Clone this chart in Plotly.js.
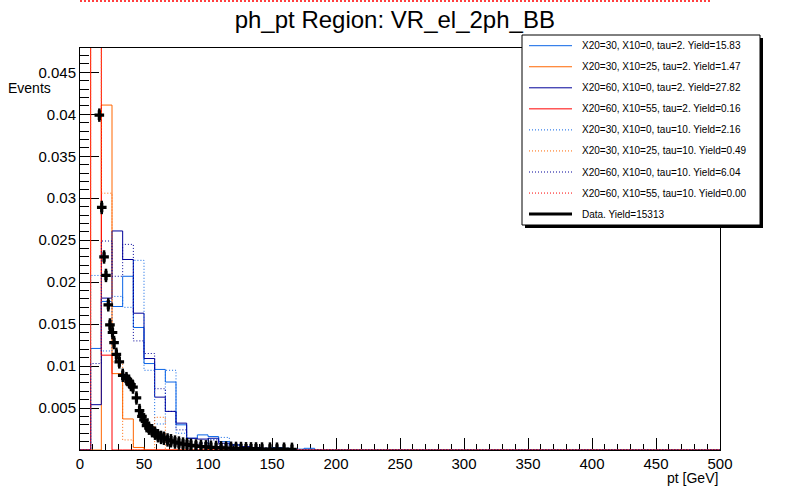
<!DOCTYPE html>
<html>
<head>
<meta charset="utf-8">
<script src="https://cdn.plot.ly/plotly-3.0.1.min.js"></script>
<style>html,body{margin:0;padding:0;background:#fff;}#chart{width:800px;height:500px;}</style>
</head>
<body>
<div id="chart"></div>
<script>
// ---- data (bin width 500/60 GeV, values per bin) ----
var nBins = 60;
var xMin = 0, xMax = 500;

var sigA_tau2  = [0, 0.0121, 0.0177, 0.0171, 0.0207, 0.0146, 0.0103, 0.0096, 0.0081, 0.0030, 0.0014, 0.0018, 0.0016, 0.0010, 0.0006, 0.0004, 0.0003, 0.0002, 0.0003, 0.0002, 0.0001, 0.0002];
var sigB_tau2  = [0, 0, 0.0411, 0.0091, 0.0037, 0.0003];
var sigC_tau2  = [0, 0.0054, 0.0181, 0.0261, 0.0227, 0.0163, 0.0109, 0.0063, 0.0046, 0.0032, 0.0014, 0.0013, 0.0014, 0.0008, 0.0006, 0.0004, 0.0003, 0.0002, 0.0002, 0.0001];
var sigD_tau2  = [0, 0.5, 0.0113];
var sigA_tau10 = [0, 0.0208, 0.0118, 0.0183, 0.0170, 0.0226, 0.0095, 0.0031, 0.0095, 0.0020, 0, 0.0005, 0.0013, 0.0015, 0.0006];
var sigB_tau10 = [0, 0.5, 0.0306, 0.0105, 0.0012, 0, 0, 0.0039];
var sigC_tau10 = [0, 0.0103, 0.0249, 0.0207, 0.0245, 0.0130, 0.0115, 0.0073, 0.0046, 0.0024, 0.0006, 0.0008, 0.0012, 0.0005];
var sigD_tau10 = [];

var dataX = [15.1, 17.0, 18.8, 20.3, 22.1, 23.4, 25.4, 26.6, 28.4, 30.7, 33.4, 36.3, 38.3, 39.8, 41.4, 44.1, 46.5, 48.4, 50.0, 52.0, 53.9, 56.3, 58.6, 60.9, 63.3, 65.6, 68.4, 71.1, 74.2, 77.3, 80.5, 83.6, 86.7, 90.6, 94.5, 98.4, 102.3, 106.3, 110.2, 114.1, 118.0, 121.9, 125.8, 129.7, 133.6, 137.5, 142.2, 148.4, 153.9, 159.4, 165.6];
var dataY = [0.0399, 0.0289, 0.0230, 0.0208, 0.0173, 0.0149, 0.0140, 0.0128, 0.0114, 0.0105, 0.0089, 0.0085, 0.0082, 0.0078, 0.0075, 0.0062, 0.0047, 0.0040, 0.0036, 0.0029, 0.0026, 0.0023, 0.0020, 0.0017, 0.0015, 0.0014, 0.0012, 0.0011, 0.00095, 0.00083, 0.00071, 0.00065, 0.00056, 0.00048, 0.00042, 0.00038, 0.00033, 0.00030, 0.00026, 0.00024, 0.00021, 0.00019, 0.00018, 0.00015, 0.00014, 0.00013, 0.00012, 0.00011, 0.00010, 0.00010, 0.00008];

var legendLabels = [
  "X20=30, X10=0, tau=2. Yield=15.83",
  "X20=30, X10=25, tau=2. Yield=1.47",
  "X20=60, X10=0, tau=2. Yield=27.82",
  "X20=60, X10=55, tau=2. Yield=0.16",
  "X20=30, X10=0, tau=10. Yield=2.16",
  "X20=30, X10=25, tau=10. Yield=0.49",
  "X20=60, X10=0, tau=10. Yield=6.04",
  "X20=60, X10=55, tau=10. Yield=0.00",
  "Data. Yield=15313"
];

var yTickVals = [0.005, 0.01, 0.015, 0.02, 0.025, 0.03, 0.035, 0.04, 0.045];
var yTickText = ["0.005", "0.01", "0.015", "0.02", "0.025", "0.03", "0.035", "0.04", "0.045"];

var titleText = "ph_pt Region: VR_el_2ph_BB";
var xTitle = "pt [GeV]";
var yTitle = "Events";

// ---- styles ----
var cLight = "#0a64e6", cOrange = "#ff6600", cNavy = "#000099", cRed = "#ff0000";
var dotDash = "1px,2px";
var seriesStyle = [
  {color: cLight,  dash: "solid"},
  {color: cOrange, dash: "solid"},
  {color: cNavy,   dash: "solid"},
  {color: cRed,    dash: "solid"},
  {color: cLight,  dash: dotDash},
  {color: cOrange, dash: dotDash},
  {color: cNavy,   dash: dotDash},
  {color: cRed,    dash: dotDash}
];
var seriesVals = [sigA_tau2, sigB_tau2, sigC_tau2, sigD_tau2, sigA_tau10, sigB_tau10, sigC_tau10, sigD_tau10];

var binW = (xMax - xMin) / nBins;
function stepTrace(vals, st) {
  if (vals.length === 0) {
    return {x: [], y: [], type: "scatter", mode: "lines", showlegend: false, hoverinfo: "skip",
            line: {color: st.color, width: 1, dash: st.dash}};
  }
  var xs = [], ys = [];
  for (var i = 0; i < nBins; i++) {
    xs.push(xMin + i * binW);
    ys.push(i < vals.length ? vals[i] : 0);
  }
  xs.push(xMax); ys.push(ys[ys.length - 1]);
  return {x: xs, y: ys, type: "scatter", mode: "lines", line: {shape: "hv", color: st.color, width: 1, dash: st.dash},
          showlegend: false, hoverinfo: "skip", cliponaxis: true};
}

var traces = [];
for (var k = 0; k < seriesVals.length; k++) traces.push(stepTrace(seriesVals[k], seriesStyle[k]));
traces.push({
  x: dataX, y: dataY, type: "scatter", mode: "markers", showlegend: false, hoverinfo: "skip",
  marker: {symbol: "cross", size: 8, color: "black", line: {width: 0}},
  error_y: {type: "constant", value: 0.0008, thickness: 2.5, width: 0, color: "black"}
});

// ---- pixel helpers for the ROOT-like legend ----
var L = 80, R = 720, T = 48, B = 450;
function px(p) { return (p - L) / (R - L); }
function py(p) { return (B - p) / (B - T); }

var shapes = [];
var annotations = [];

// stray red dotted line at top of canvas (the empty tau=10 histogram)
shapes.push({type: "line", xref: "paper", yref: "paper", x0: px(80), x1: px(712), y0: py(1), y1: py(1),
             line: {color: cRed, width: 1.5, dash: "2px,2px"}});

// legend box with shadow
shapes.push({type: "rect", xref: "paper", yref: "paper", x0: px(525), x1: px(763), y0: py(228), y1: py(38),
             fillcolor: "black", line: {width: 0}});
shapes.push({type: "rect", xref: "paper", yref: "paper", x0: px(522), x1: px(760), y0: py(225), y1: py(35),
             fillcolor: "white", line: {color: "black", width: 1}});

var rowY0 = 45.7, rowDy = 21.05;
for (var i = 0; i < legendLabels.length; i++) {
  var yy = rowY0 + i * rowDy;
  var st = i < seriesStyle.length ? seriesStyle[i] : {color: "black", dash: "solid"};
  shapes.push({type: "line", xref: "paper", yref: "paper", x0: px(529), x1: px(572), y0: py(yy), y1: py(yy),
               line: {color: st.color, width: i < seriesStyle.length ? 1 : 3, dash: st.dash}});
  annotations.push({xref: "paper", yref: "paper", x: px(580), y: py(yy), xanchor: "left", yanchor: "middle",
                    text: legendLabels[i], showarrow: false, font: {size: 10, color: "black"}});
}

annotations.push({xref: "paper", yref: "paper", x: 1, y: py(478), xanchor: "right", yanchor: "middle",
                  text: xTitle, showarrow: false, font: {size: 14, color: "black"}});
annotations.push({xref: "paper", yref: "paper", x: px(6), y: py(88), xanchor: "left", yanchor: "middle",
                  text: yTitle, showarrow: false, font: {size: 14, color: "black"}});

var layout = {
  width: 800, height: 500,
  margin: {l: L, r: 800 - R, t: T, b: 500 - B, pad: 0},
  paper_bgcolor: "white", plot_bgcolor: "white",
  font: {family: "Liberation Sans, Arial, Helvetica, sans-serif", color: "black"},
  showlegend: false,
  title: {text: titleText, x: 393.5 / 800, xanchor: "center", xref: "paper", y: 1 - 20 / 500, yanchor: "middle",
          font: {size: 24, color: "black"}},
  xaxis: {
    range: [xMin, xMax], showgrid: false, zeroline: false, layer: "below traces",
    showline: true, linecolor: "black", linewidth: 1, mirror: true,
    ticks: "inside", ticklen: 12, tickcolor: "black", tickwidth: 1,
    tickmode: "linear", tick0: 0, dtick: 50,
    minor: {ticks: "inside", ticklen: 6, tickcolor: "black", tickmode: "linear", tick0: 0, dtick: 10},
    tickfont: {size: 15}
  },
  yaxis: {
    range: [0, 0.0479], showgrid: false, zeroline: false, layer: "below traces",
    showline: true, linecolor: "black", linewidth: 1, mirror: true,
    ticks: "inside", ticklen: 19, tickcolor: "black", tickwidth: 1,
    tickmode: "array", tickvals: yTickVals, ticktext: yTickText,
    minor: {ticks: "inside", ticklen: 9, tickcolor: "black", tickmode: "linear", tick0: 0, dtick: 0.001},
    tickfont: {size: 15}
  },
  shapes: shapes,
  annotations: annotations
};

Plotly.newPlot("chart", traces, layout, {staticPlot: true, displayModeBar: false});
</script>
</body>
</html>
